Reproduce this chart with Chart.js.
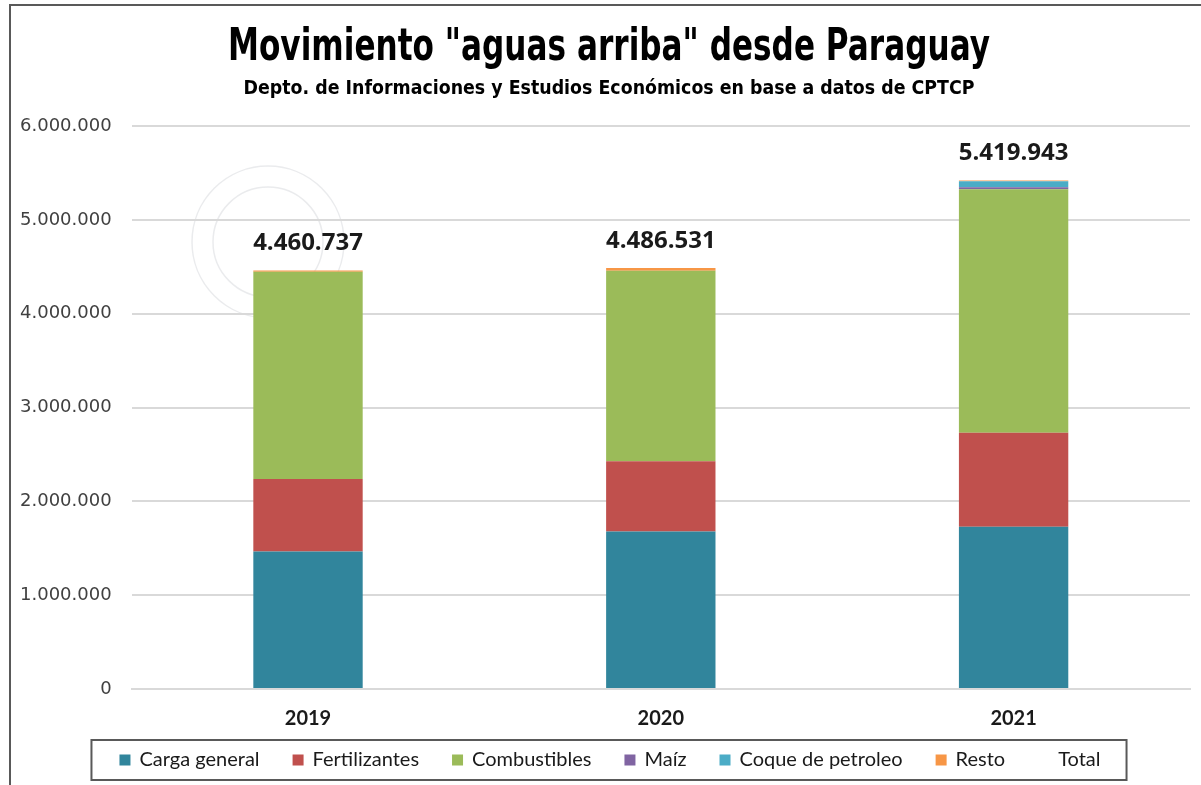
<!DOCTYPE html>
<html><head><meta charset="utf-8">
<script src="https://cdn.jsdelivr.net/npm/chart.js@4/dist/chart.umd.min.js"></script>
<style>html,body{margin:0;padding:0;background:#fff;overflow:hidden}#wrap{width:1201px;height:785px;position:relative}</style>
</head><body><div id="wrap"><canvas id="c" width="1201" height="785"></canvas></div>
<script>
const categories = ['2019', '2020', '2021'];
const cargaGeneral = [1466000, 1679000, 1729000];
const fertilizantes = [773000, 748000, 1001000];
const combustibles = [2207000, 2030000, 2597000];
const maiz = [0, 0, 20000];
const coque = [0, 0, 65000];
const resto = [14737, 29531, 7943];
const totals = [4460737, 4486531, 5419943];
const yMin = 0, yMax = 6000000, yStep = 1000000;
const titleText = 'Movimiento "aguas arriba" desde Paraguay';
const subtitleText = 'Depto. de Informaciones y Estudios Económicos en base a datos de CPTCP';

function fmt(n){ return String(Math.round(n)).replace(/\B(?=(\d{3})+(?!\d))/g, '.'); }

function narrowText(ctx, text, font, cx, baseline, targetW){
  ctx.save();
  ctx.font = font;
  const w = ctx.measureText(text).width;
  const sx = targetW / w;
  ctx.translate(cx, baseline);
  ctx.scale(sx, 1);
  ctx.textAlign = 'center'; ctx.textBaseline = 'alphabetic';
  ctx.fillStyle = '#000';
  ctx.fillText(text, 0, 0);
  ctx.restore();
}

const framePlugin = {
  id: 'frame',
  beforeDraw(chart){
    const ctx = chart.ctx;
    ctx.save();
    ctx.fillStyle = '#fff';
    ctx.fillRect(0,0,chart.width,chart.height);
    ctx.strokeStyle = '#595959'; ctx.lineWidth = 2;
    ctx.beginPath(); ctx.moveTo(10, 785); ctx.lineTo(10, 5); ctx.lineTo(1201, 5); ctx.stroke();
    // faint watermark seal
    ctx.strokeStyle = 'rgba(160,165,175,0.22)'; ctx.lineWidth = 1.5;
    ctx.beginPath(); ctx.arc(268, 242, 76, 0, Math.PI*2); ctx.stroke();
    ctx.beginPath(); ctx.arc(268, 242, 55, 0, Math.PI*2); ctx.stroke();
    ctx.restore();
    narrowText(ctx, titleText, 'bold 45px "DejaVu Sans", sans-serif', 609, 60, 762);
    narrowText(ctx, subtitleText, 'bold 19px "DejaVu Sans", sans-serif', 609, 94, 731);
  }
};

const totalsPlugin = {
  id: 'totals',
  afterDatasetsDraw(chart){
    const ctx = chart.ctx;
    const idx = chart.data.datasets.findIndex(d => d.label === 'Total');
    const meta = chart.getDatasetMeta(idx);
    ctx.save();
    ctx.font = 'bold 24px "Open Sans", sans-serif';
    ctx.fillStyle = '#1a1a1a';
    ctx.textAlign = 'center'; ctx.textBaseline = 'middle';
    meta.data.forEach((pt, i) => {
      ctx.fillText(fmt(totals[i]), pt.x, pt.y - 27);
    });
    ctx.restore();
  }
};

const legendPlugin = {
  id: 'manualLegend',
  afterDraw(chart){
    const ctx = chart.ctx;
    ctx.save();
    ctx.font = '20px Lato, sans-serif';
    const box = 11, gapBT = 9, gapItem = 33;
    const items = chart.data.datasets.map(d => ({ label: d.label, color: d.label === 'Total' ? null : d.backgroundColor }));
    let total = 0;
    items.forEach((it, i) => {
      it.tw = ctx.measureText(it.label).width;
      it.w = box + gapBT + it.tw;
      total += it.w + (i ? gapItem : 0);
    });
    const cx = 610, cy = 760;
    let x = cx - total / 2;
    ctx.strokeStyle = '#595959'; ctx.lineWidth = 2;
    ctx.strokeRect(x - 28, 740, total + 54, 40);
    ctx.textBaseline = 'middle'; ctx.textAlign = 'left';
    items.forEach(it => {
      if (it.color) { ctx.fillStyle = it.color; ctx.fillRect(x, cy - box/2, box, box); }
      ctx.fillStyle = '#1a1a1a';
      ctx.fillText(it.label, x + box + gapBT, cy);
      x += it.w + gapItem;
    });
    ctx.restore();
  }
};

const ds = (label, data, color) => ({ label, data, backgroundColor: color, borderWidth: 0, stack: 's', categoryPercentage: 1, barPercentage: 0.31 });

new Chart(document.getElementById('c'), {
  type: 'bar',
  data: {
    labels: categories,
    datasets: [
      ds('Carga general', cargaGeneral, '#31859C'),
      ds('Fertilizantes', fertilizantes, '#C0504D'),
      ds('Combustibles', combustibles, '#9BBB59'),
      ds('Maíz', maiz, '#8064A2'),
      ds('Coque de petroleo', coque, '#4BACC6'),
      ds('Resto', resto, '#F79646'),
      { type: 'line', label: 'Total', data: totals, stack: 'total', showLine: false, pointRadius: 0, borderColor: 'rgba(0,0,0,0)', backgroundColor: 'rgba(0,0,0,0)' }
    ]
  },
  options: {
    responsive: false,
    animation: false,
    devicePixelRatio: 1,
    layout: { padding: { left: 0, right: 11, top: 126, bottom: 36 } },
    scales: {
      x: {
        stacked: true,
        grid: { display: false, drawTicks: false },
        border: { color: '#d9d9d9', width: 2 },
        ticks: { color: '#1a1a1a', padding: 18, font: { family: 'Lato, sans-serif', size: 20, weight: 'bold' } }
      },
      y: {
        stacked: true,
        min: yMin, max: yMax,
        grid: { color: '#d9d9d9', lineWidth: 2, drawTicks: false },
        border: { display: false },
        ticks: { stepSize: yStep, padding: 20, color: '#404040', font: { family: '"DejaVu Sans", sans-serif', size: 18 }, callback: v => fmt(v) }
      }
    },
    plugins: {
      title: { display: false },
      legend: { display: false },
      tooltip: { enabled: false }
    }
  },
  plugins: [framePlugin, totalsPlugin, legendPlugin]
});
</script>
</body></html>
